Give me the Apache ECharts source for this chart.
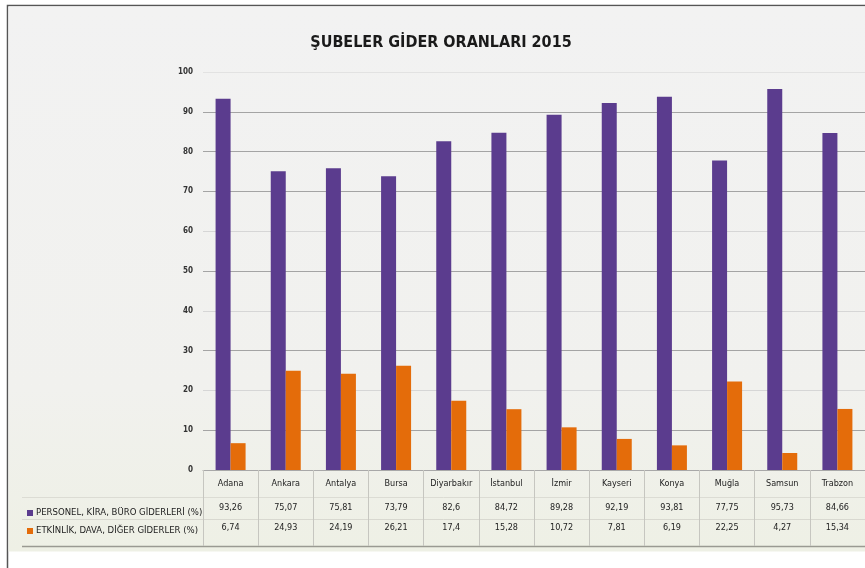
<!DOCTYPE html>
<html>
<head>
<meta charset="utf-8">
<script src="https://cdn.jsdelivr.net/npm/echarts@6/dist/echarts.min.js"></script>
<style>
  html, body { margin: 0; padding: 0; background: #fff; }
  #chart { width: 865px; height: 568px; }
</style>
</head>
<body>
<div id="chart"></div>
<script>
  // şube isimleri ve oranlar (%)
  var subeler = ['Adana', 'Ankara', 'Antalya', 'Bursa', 'Diyarbakır', 'İstanbul', 'İzmir', 'Kayseri', 'Konya', 'Muğla', 'Samsun', 'Trabzon']
  var personelGider = [93.26, 75.07, 75.81, 73.79, 82.6, 84.72, 89.28, 92.19, 93.81, 77.75, 95.73, 84.66]
  var etkinlikGider = [6.74, 24.93, 24.19, 26.21, 17.4, 15.28, 10.72, 7.81, 6.19, 22.25, 4.27, 15.34]
  var seriAdlari = ['PERSONEL, KİRA, BÜRO GİDERLERİ (%)', 'ETKİNLİK, DAVA, DİĞER GİDERLER (%)']

  var font = "'Liberation Sans Narrow', 'DejaVu Sans Condensed', sans-serif"

  function virgul(v) {
    return String(v).replace('.', ',')
  }

  // yatay çizgiler: bazıları resimde çok soluk
  var gridRenk = ['#a4a4a4', '#a4a4a4', '#d6d6d6', '#a4a4a4', '#d6d6d6', '#a4a4a4', '#d6d6d6', '#a4a4a4', '#a4a4a4', '#a4a4a4', '#e2e2e2']

  var chart = echarts.init(document.getElementById('chart'))
  chart.setOption({
    backgroundColor: '#fff',
    animation: false,
    title: {
      text: 'ŞUBELER GİDER ORANLARI 2015',
      left: 436,
      top: 30,
      textAlign: 'center',
      textStyle: { fontFamily: font, fontSize: 16, fontWeight: 'bold', color: '#1a1a1a' }
    },
    graphic: [
      {
        type: 'rect', z: -10,
        shape: { x: 7.5, y: 5.5, width: 900, height: 600 },
        style: { fill: '#fff', stroke: '#555', lineWidth: 1.5 }
      },
      {
        type: 'rect', z: -9,
        shape: { x: 8.5, y: 6.5, width: 880, height: 545 },
        style: {
          fill: new echarts.graphic.LinearGradient(0, 0, 0, 1, [
            { offset: 0, color: '#f2f2f2' },
            { offset: 0.7, color: '#f1f1ee' },
            { offset: 1, color: '#eef0e5' }
          ])
        }
      },
      { type: 'line', z: -8, shape: { x1: 22, y1: 497.5, x2: 865, y2: 497.5 }, style: { stroke: '#dcdcd4', lineWidth: 1 } },
      { type: 'line', z: -8, shape: { x1: 22, y1: 519.5, x2: 865, y2: 519.5 }, style: { stroke: '#d8d8d0', lineWidth: 1 } },
      { type: 'line', z: -8, shape: { x1: 22, y1: 546.5, x2: 865, y2: 546.5 }, style: { stroke: '#9a9a92', lineWidth: 1.5 } }
    ],
    legend: {
      orient: 'vertical',
      left: 22,
      top: 503,
      itemWidth: 6,
      itemHeight: 6,
      itemGap: 8,
      icon: 'rect',
      textStyle: { fontFamily: font, fontSize: 9.5, color: '#222', padding: [0, 0, 0, -2] },
      data: seriAdlari
    },
    grid: { left: 203, right: 0, top: 72, bottom: 98 },
    xAxis: {
      type: 'category',
      data: subeler,
      axisLine: { show: true, lineStyle: { color: '#a8a8a8' } },
      axisTick: { show: true, length: 76, lineStyle: { color: '#c6c6c0' } },
      axisLabel: {
        interval: 0,
        margin: 0,
        formatter: function (val, i) {
          return '{c|' + val + '}\n{v|' + virgul(personelGider[i]) + '}\n{v|' + virgul(etkinlikGider[i]) + '}'
        },
        rich: {
          c: { fontFamily: font, fontSize: 9, color: '#222', lineHeight: 28 },
          v: { fontFamily: font, fontSize: 9, color: '#222', lineHeight: 20 }
        }
      }
    },
    yAxis: {
      type: 'value',
      min: 0,
      max: 100,
      interval: 10,
      axisLine: { show: false },
      axisTick: { show: false },
      axisLabel: { fontFamily: font, fontSize: 8, fontWeight: 'bold', color: '#333', margin: 10 },
      splitLine: { lineStyle: { color: gridRenk, width: 1 } }
    },
    series: [
      {
        name: seriAdlari[0],
        type: 'bar',
        data: personelGider,
        barWidth: 15,
        barGap: '0%',
        itemStyle: { color: '#5b3c8e' }
      },
      {
        name: seriAdlari[1],
        type: 'bar',
        data: etkinlikGider,
        barWidth: 15,
        itemStyle: { color: '#e46c0a' }
      }
    ]
  })
</script>
</body>
</html>
